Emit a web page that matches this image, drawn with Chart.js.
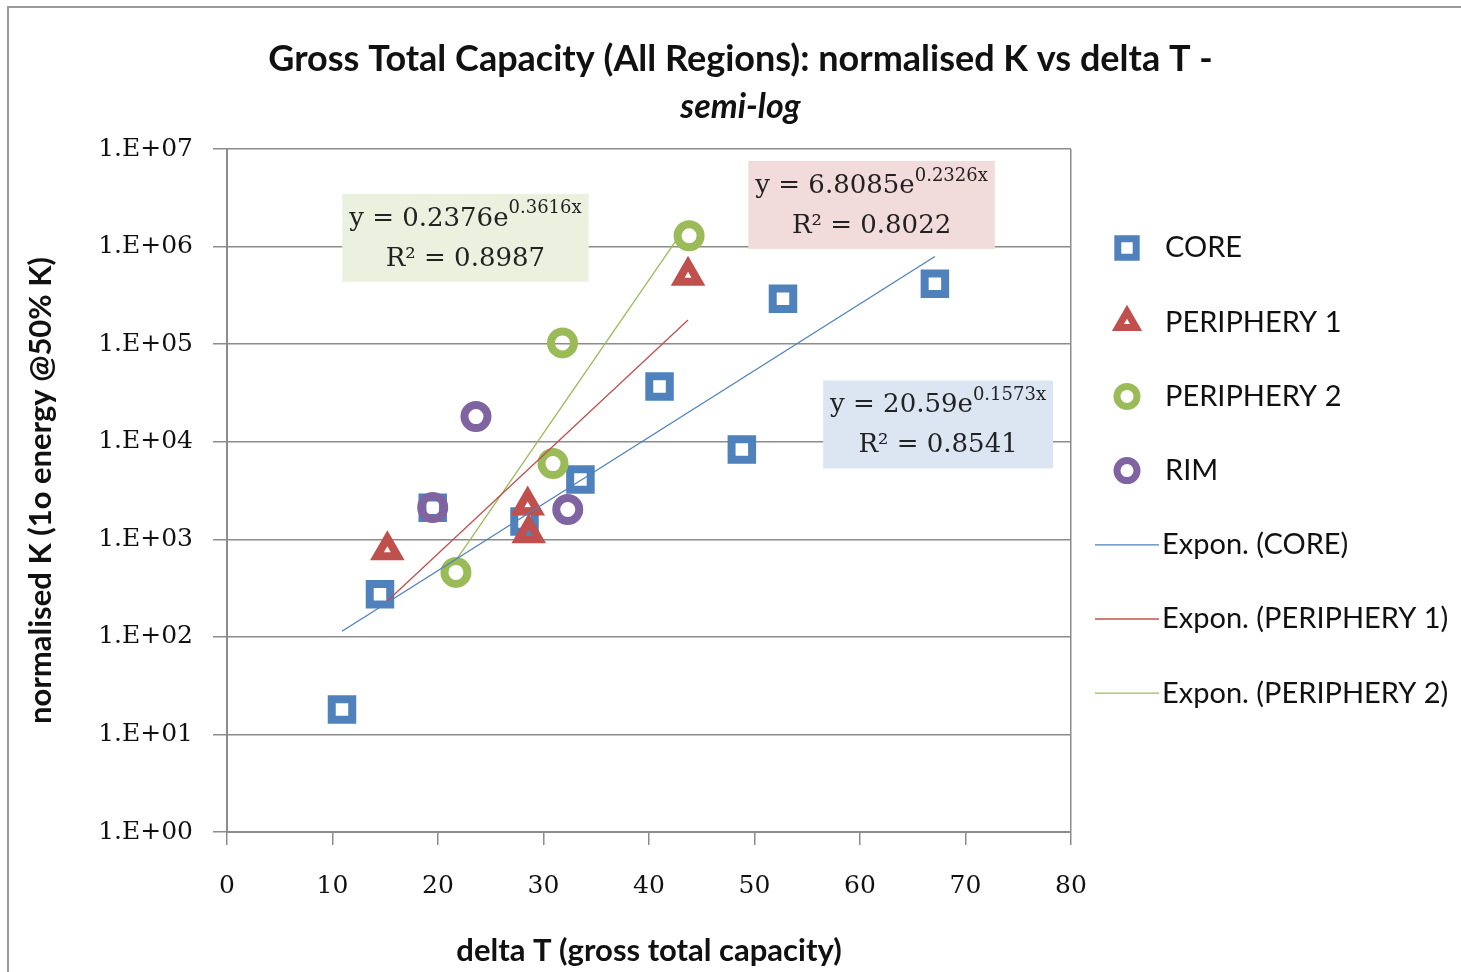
<!DOCTYPE html>
<html>
<head>
<meta charset="utf-8">
<script src="https://cdn.jsdelivr.net/npm/chart.js@4.4.0/dist/chart.umd.min.js"></script>
<style>
html, body { margin: 0; padding: 0; background: #fff; }
</style>
</head>
<body>
<canvas id="chart" width="1461" height="972"></canvas>
<script>
// values: x = delta T, y = normalised K
var core_x = [10.9, 14.5, 19.5, 28.2, 33.5, 41.0, 48.8, 52.7, 67.1];
var core_y = [18, 273, 2100, 1520, 4100, 36700, 8300, 292000, 416000];
var p1_x = [15.2, 28.5, 28.6, 43.7];
var p1_y = [770, 2220, 1150, 502000];
var p2_x = [21.7, 30.9, 31.8, 43.8];
var p2_y = [458, 5970, 103000, 1290000];
var rim_x = [19.5, 23.6, 32.3];
var rim_y = [2120, 18100, 2020];

// trend line end points (straight on the log axis)
var core_trend_x = [10.9, 67.1];
var core_trend_y = [114, 790000];
var p1_trend_x = [15.2, 43.7];
var p1_trend_y = [233, 177000];
var p2_trend_x = [21.7, 43.8];
var p2_trend_y = [608, 1800000];

// fit equations shown on the chart
var fit_names = ['PERIPHERY 2', 'PERIPHERY 1', 'CORE'];
var fit_coef = ['0.2376', '6.8085', '20.59'];
var fit_expo = ['0.3616x', '0.2326x', '0.1573x'];
var fit_r2 = ['0.8987', '0.8022', '0.8541'];

var y_ticks = [1, 10, 100, 1000, 10000, 100000, 1000000, 10000000];

var blue = '#4F81BD', red = '#C0504D', green = '#9BBB59', purple = '#8064A2';
var serif = '"DejaVu Serif", serif';
var sans = 'Lato, "Open Sans", sans-serif';

function pairs(xs, ys) {
  var out = [];
  for (var i = 0; i < xs.length; i++) out.push({x: xs[i], y: ys[i]});
  return out;
}

function markers(label, xs, ys, style, color, r, order) {
  return {
    label: label, data: pairs(xs, ys), pointStyle: style, pointRadius: r,
    borderColor: color, borderWidth: 8, pointBorderWidth: 8,
    backgroundColor: 'rgba(0,0,0,0)', showLine: false, order: order
  };
}
function trend(label, xs, ys, color) {
  return {
    label: label, data: pairs(xs, ys), showLine: true, pointRadius: 0,
    borderColor: color, borderWidth: 1.3, pointStyle: 'line', order: 0
  };
}

var datasets = [
  markers('CORE', core_x, core_y, 'rect', blue, 14.5, 4),
  markers('PERIPHERY 1', p1_x, p1_y, 'triangle', red, 12, 3),
  markers('PERIPHERY 2', p2_x, p2_y, 'circle', green, 11.5, 2),
  markers('RIM', rim_x, rim_y, 'circle', purple, 11.5, 1),
  trend('Expon. (CORE)', core_trend_x, core_trend_y, blue),
  trend('Expon. (PERIPHERY 1)', p1_trend_x, p1_trend_y, red),
  trend('Expon. (PERIPHERY 2)', p2_trend_x, p2_trend_y, green)
];

// where the equation labels sit, in data units, plus their fill
var eq_boxes = [
  {x: 22.6, y: 1.23e6, bg: '#EBF1DE'},
  {x: 61.1, y: 2.67e6, bg: '#F2DCDB'},
  {x: 67.4, y: 15000, bg: '#DCE6F2'}
];

var framePlugin = {
  id: 'frame',
  beforeDraw: function(chart) {
    var c = chart.ctx;
    c.save();
    c.fillStyle = '#fff';
    c.fillRect(0, 0, chart.width, chart.height);
    c.strokeStyle = '#9a9a9a';
    c.lineWidth = 2;
    c.strokeRect(8, 7, chart.width + 20, chart.height + 20);
    c.restore();
  }
};

var equationPlugin = {
  id: 'equations',
  afterDatasetsDraw: function(chart) {
    var c = chart.ctx, xs = chart.scales.x, ys = chart.scales.y;
    c.save();
    c.textBaseline = 'middle';
    for (var i = 0; i < eq_boxes.length; i++) {
      var b = eq_boxes[i];
      var cx = xs.getPixelForValue(b.x), cy = ys.getPixelForValue(b.y);
      var main = 'y = ' + fit_coef[i] + 'e';
      var line2 = 'R\u00b2 = ' + fit_r2[i];
      c.font = '26px ' + serif;
      var w1 = c.measureText(main).width;
      var w3 = c.measureText(line2).width;
      c.font = '18px ' + serif;
      var w2 = c.measureText(fit_expo[i]).width;
      var w = Math.max(w1 + w2, w3) + 14;
      var h = 88;
      c.fillStyle = b.bg;
      c.fillRect(cx - w / 2, cy - h / 2, w, h);
      c.fillStyle = '#222';
      var sx = cx - (w1 + w2) / 2;
      c.font = '26px ' + serif;
      c.textAlign = 'left';
      c.fillText(main, sx, cy - 19);
      c.font = '18px ' + serif;
      c.fillText(fit_expo[i], sx + w1, cy - 29);
      c.font = '26px ' + serif;
      c.textAlign = 'center';
      c.fillText(line2, cx, cy + 21);
    }
    c.restore();
  }
};

var legendPlugin = {
  id: 'sideLegend',
  afterDraw: function(chart) {
    var c = chart.ctx, area = chart.chartArea;
    c.save();
    c.textBaseline = 'middle';
    c.textAlign = 'left';
    c.font = '29px ' + sans;
    var ds = chart.data.datasets;
    for (var i = 0; i < ds.length; i++) {
      var y = area.top + 99 + i * 74.2;
      var d = ds[i];
      c.strokeStyle = d.borderColor;
      if (d.showLine) {
        c.lineWidth = 1.3;
        c.beginPath();
        c.moveTo(area.right + 24, y);
        c.lineTo(area.right + 88, y);
        c.stroke();
        c.fillStyle = '#111';
        c.fillText(d.label, area.right + 91, y);
      } else {
        c.lineWidth = 7;
        c.fillStyle = 'rgba(0,0,0,0)';
        Chart.helpers.drawPoint(c, {
          pointStyle: d.pointStyle,
          radius: d.pointStyle === 'rect' ? 13 : (d.pointStyle === 'triangle' ? 10.5 : 10),
          rotation: 0, borderWidth: 7
        }, area.right + 56, y);
        c.fillStyle = '#111';
        c.fillText(d.label, area.right + 94, y);
      }
    }
    c.restore();
  }
};

var grid = '#8c8c8c';

new Chart(document.getElementById('chart'), {
  type: 'scatter',
  data: { datasets: datasets },
  plugins: [framePlugin, equationPlugin, legendPlugin],
  options: {
    responsive: false,
    animation: false,
    events: [],
    layout: { padding: { top: 38, right: 0, left: 20, bottom: 0 } },
    plugins: {
      legend: { display: false },
      tooltip: { enabled: false },
      title: {
        display: true,
        text: 'Gross Total Capacity (All Regions): normalised K vs delta T -',
        color: '#111',
        font: { family: sans, size: 36, weight: 'bold', lineHeight: 1.2 },
        padding: { top: 0, bottom: 5 }
      },
      subtitle: {
        display: true,
        text: 'semi-log',
        color: '#111',
        font: { family: sans, size: 34, weight: 'bold', style: 'italic', lineHeight: 1.2 },
        padding: { top: 0, bottom: 22 }
      }
    },
    scales: {
      x: {
        type: 'linear', min: 0, max: 80,
        ticks: { stepSize: 10, color: '#111', font: { family: serif, size: 25 }, padding: 26, maxRotation: 0 },
        grid: {
          color: function(ctx) { return ctx.tick && ctx.tick.value === 80 ? grid : 'rgba(0,0,0,0)'; },
          tickColor: grid, tickLength: 13, lineWidth: 1.5
        },
        border: { color: grid, width: 2 },
        title: {
          display: true, text: 'delta T (gross total capacity)', color: '#111',
          font: { family: sans, size: 31, weight: 'bold' }, padding: { top: 0, bottom: 2 }
        },
        afterFit: function(s) { s.height = 140; }
      },
      y: {
        type: 'logarithmic', min: 1, max: 10000000,
        afterBuildTicks: function(s) {
          s.ticks = y_ticks.map(function(v) { return {value: v}; });
        },
        ticks: {
          color: '#111', font: { family: serif, size: 25 }, padding: 20,
          callback: function(v) {
            var e = Math.round(Math.log10(v));
            return '1.E+' + (e < 10 ? '0' : '') + e;
          }
        },
        grid: { color: grid, tickColor: grid, tickLength: 14, lineWidth: 1.5 },
        border: { color: grid, width: 2 },
        title: {
          display: true, text: 'normalised K (1o energy @50% K)', color: '#111',
          font: { family: sans, size: 31, weight: 'bold' }, padding: { top: 2, bottom: 0 }
        },
        afterFit: function(s) { s.width = 207; }
      },
      // empty axis that keeps room on the right for the legend
      side: {
        type: 'linear', position: 'right', display: true,
        grid: { display: false }, border: { display: false },
        ticks: { display: false },
        afterFit: function(s) { s.width = 390; }
      }
    }
  }
});
</script>
</body>
</html>
